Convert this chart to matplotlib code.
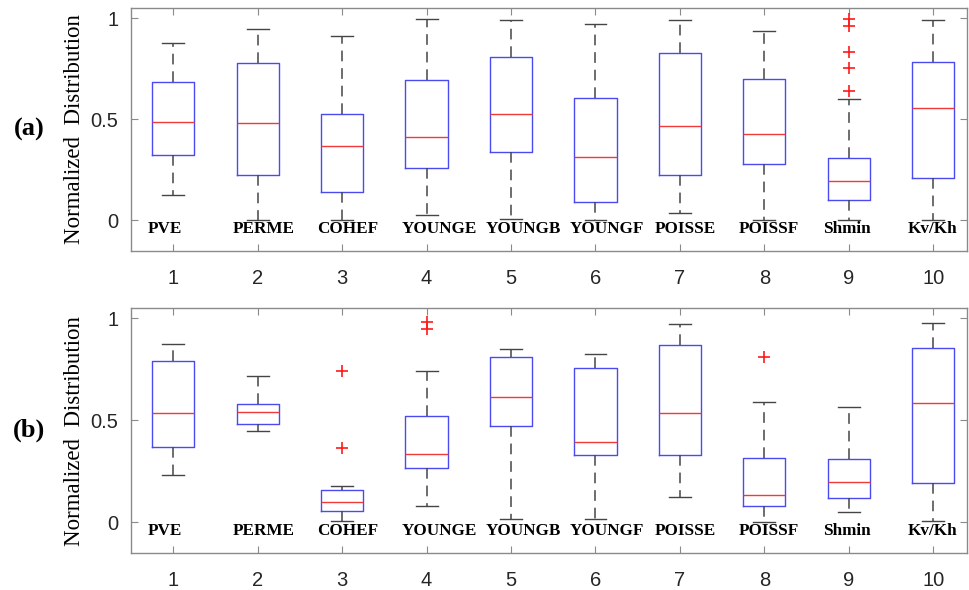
"""
Box plots of normalized parameter distributions for two cases (a) and (b).
"""

import matplotlib.pyplot as plt

params = ["PVE", "PERME", "COHEF", "YOUNGE", "YOUNGB",
          "YOUNGF", "POISSE", "POISSF", "Shmin", "Kv/Kh"]

# case (a): whisker low, Q1, median, Q3, whisker high, outliers
a_whislo = [0.124, 0.0, 0.0, 0.025, 0.008, 0.0, 0.038, 0.0, 0.0, 0.0]
a_q1 = [0.321, 0.223, 0.142, 0.261, 0.336, 0.089, 0.226, 0.278, 0.098, 0.207]
a_med = [0.484, 0.481, 0.367, 0.412, 0.524, 0.312, 0.468, 0.428, 0.192, 0.555]
a_q3 = [0.683, 0.777, 0.527, 0.694, 0.810, 0.607, 0.826, 0.699, 0.306, 0.783]
a_whishi = [0.876, 0.945, 0.912, 0.995, 0.992, 0.970, 0.992, 0.936, 0.598, 0.992]
a_fliers = [[], [], [], [], [], [], [], [], [0.995, 0.962, 0.834, 0.752, 0.640], []]

# case (b)
b_whislo = [0.234, 0.446, 0.008, 0.078, 0.018, 0.018, 0.124, 0.0, 0.051, 0.007]
b_q1 = [0.371, 0.484, 0.056, 0.265, 0.471, 0.332, 0.328, 0.078, 0.118, 0.194]
b_med = [0.538, 0.542, 0.101, 0.333, 0.614, 0.394, 0.534, 0.136, 0.199, 0.583]
b_q3 = [0.789, 0.582, 0.158, 0.520, 0.812, 0.755, 0.871, 0.315, 0.312, 0.853]
b_whishi = [0.874, 0.719, 0.180, 0.742, 0.848, 0.825, 0.974, 0.592, 0.564, 0.979]
b_fliers = [[], [], [0.743, 0.366], [0.984, 0.948], [], [], [], [0.812], [], []]

SERIF = "Liberation Serif"
SANS = "Liberation Sans"


def make_stats(whislo, q1, med, q3, whishi, fliers):
    return [
        dict(whislo=lo, q1=a, med=m, q3=b, whishi=hi, fliers=f)
        for lo, a, m, b, hi, f in zip(whislo, q1, med, q3, whishi, fliers)
    ]


def draw_panel(ax, stats, tag):
    ax.bxp(
        stats,
        positions=range(1, len(stats) + 1),
        widths=0.5,
        capwidths=0.26,
        showfliers=True,
        boxprops=dict(color="#4a4af0", linewidth=1.0),
        medianprops=dict(color="#f03a3a", linewidth=1.0),
        whiskerprops=dict(color="#454545", linewidth=1.1, linestyle=(0, (7, 4.5))),
        capprops=dict(color="#454545", linewidth=1.0),
        flierprops=dict(marker="+", markeredgecolor="#ff1a1a", markersize=9,
                        markeredgewidth=1.2, linestyle="none"),
    )
    for i, name in enumerate(params, start=1):
        ax.text(i - 0.3, -0.045, name, ha="left", va="center",
                fontsize=12.3, fontweight="bold", family=SERIF)

    ax.set_xlim(0.5, 10.4)
    ax.set_ylim(-0.152, 1.05)
    ax.set_xticks(range(1, 11))
    ax.set_xticklabels([str(i) for i in range(1, 11)], family=SANS)
    ax.set_yticks([0, 0.5, 1])
    ax.set_yticklabels(["0", "0.5", "1"], family=SANS)
    ax.tick_params(direction="in", top=True, right=True, length=5,
                   width=0.8, colors="#8a8a8a", labelcolor="#262626",
                   labelsize=14.5)
    ax.tick_params(axis="x", pad=13)
    ax.tick_params(axis="y", pad=9)
    for sp in ax.spines.values():
        sp.set_color("#8a8a8a")
        sp.set_linewidth(1.0)
    ax.set_ylabel("Normalized  Distribution", family=SERIF, fontsize=16.5,
                  labelpad=4)
    ax.text(-0.122, 0.5, tag, transform=ax.transAxes, ha="center",
            va="center", fontsize=19, fontweight="bold", family=SERIF)


def main():
    fig = plt.figure(figsize=(9.69, 5.90), dpi=100)
    ax_a = fig.add_axes([0.1352, 0.5746, 0.8628, 0.4118])
    ax_b = fig.add_axes([0.1352, 0.0622, 0.8628, 0.4153])

    draw_panel(ax_a, make_stats(a_whislo, a_q1, a_med, a_q3, a_whishi, a_fliers), "(a)")
    draw_panel(ax_b, make_stats(b_whislo, b_q1, b_med, b_q3, b_whishi, b_fliers), "(b)")

    fig.savefig("out.png", dpi=100)


if __name__ == "__main__":
    main()
